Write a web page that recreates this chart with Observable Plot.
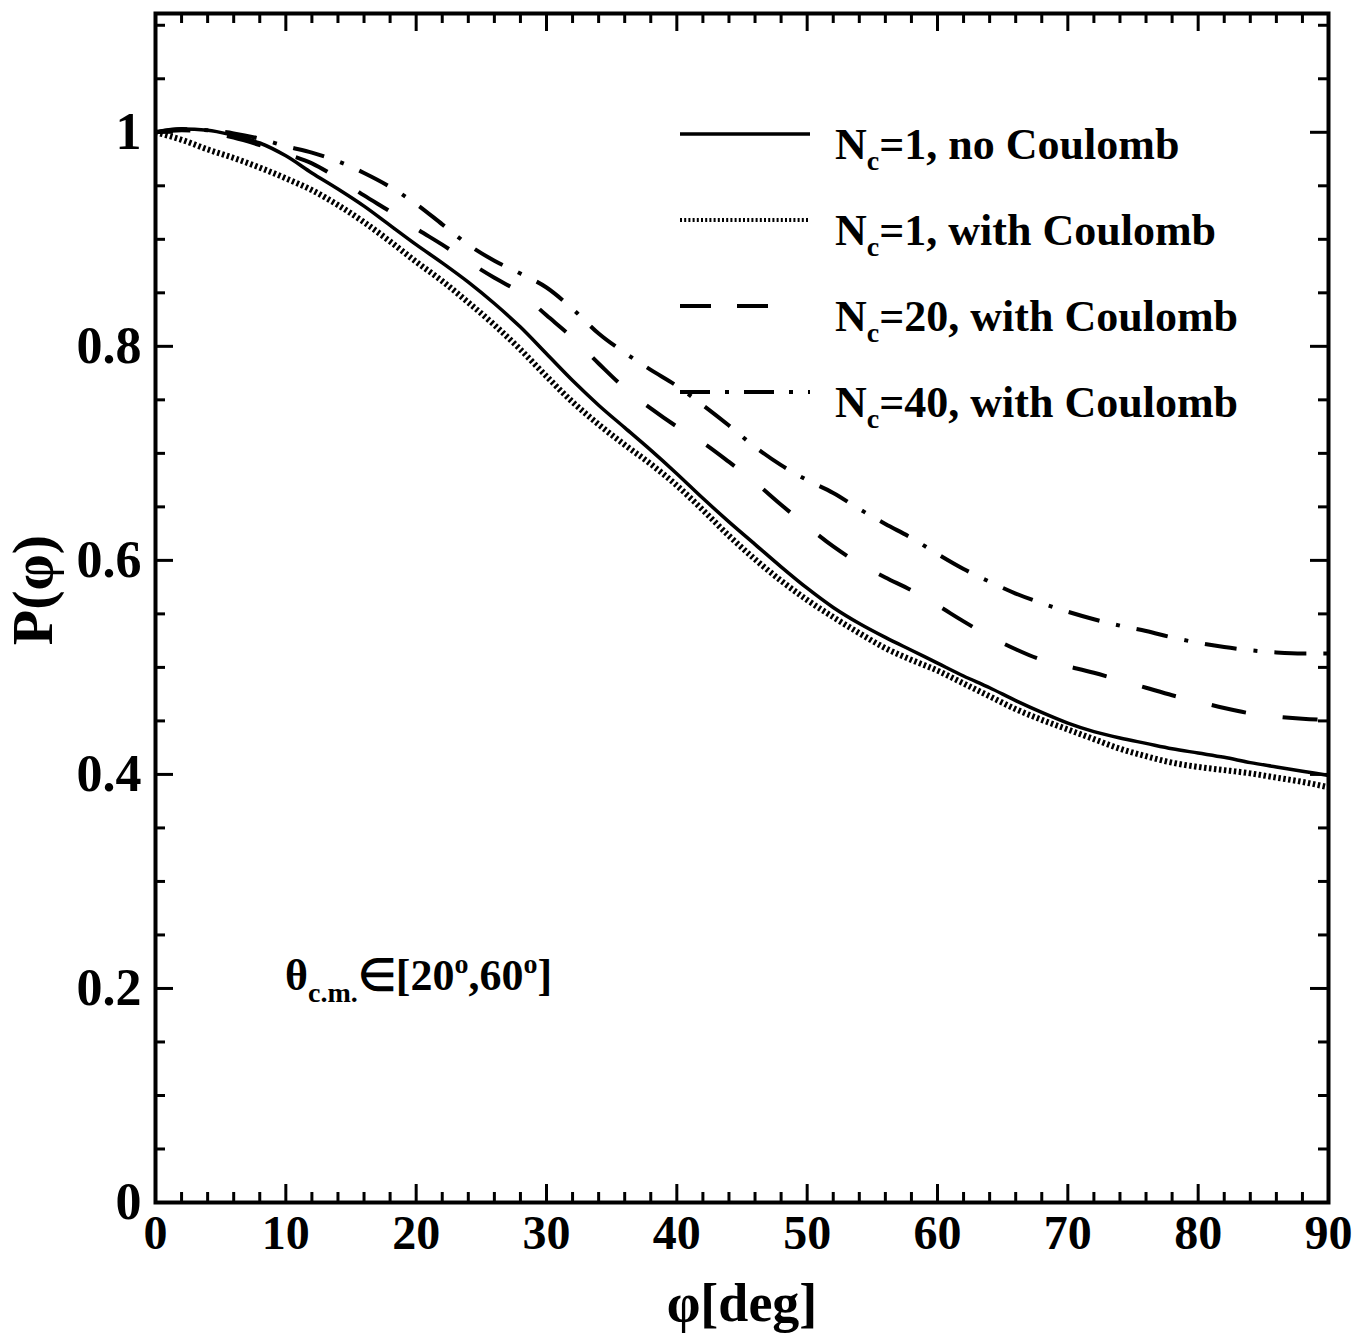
<!DOCTYPE html>
<html>
<head>
<meta charset="utf-8">
<script src="https://cdn.jsdelivr.net/npm/d3@7"></script>
<script src="https://cdn.jsdelivr.net/npm/@observablehq/plot@0.6"></script>
<style>
  html, body { margin: 0; padding: 0; background: #fff; }
  #chart svg { display: block; }
</style>
</head>
<body>
<div id="chart"></div>
<script>
// ---- data ----
const phiDeg = [0,2,4,6,8,10,12,14,16,18,20,22,24,26,28,30,32,34,36,38,40,42,44,46,48,50,52,54,56,58,60,62,64,66,68,70,72,74,76,78,80,82,84,86,88,90];

const nc1NoCoulomb = [1.000,1.003,1.002,0.997,0.990,0.978,0.962,0.947,0.931,0.913,0.895,0.878,0.860,0.840,0.818,0.793,0.768,0.745,0.724,0.703,0.681,0.658,0.636,0.615,0.594,0.574,0.556,0.541,0.528,0.516,0.504,0.492,0.481,0.469,0.458,0.448,0.440,0.434,0.429,0.424,0.420,0.416,0.411,0.407,0.403,0.399];
const nc1WithCoulomb = [1.000,0.993,0.984,0.976,0.967,0.957,0.946,0.932,0.916,0.898,0.879,0.861,0.841,0.820,0.797,0.772,0.748,0.727,0.708,0.690,0.670,0.647,0.623,0.601,0.581,0.563,0.547,0.532,0.518,0.507,0.497,0.485,0.473,0.461,0.451,0.442,0.433,0.424,0.417,0.411,0.407,0.404,0.401,0.397,0.393,0.388];
const nc20WithCoulomb = [1.000,1.002,1.000,0.995,0.988,0.980,0.971,0.957,0.941,0.926,0.910,0.895,0.879,0.864,0.850,0.829,0.808,0.784,0.761,0.742,0.725,0.710,0.692,0.673,0.652,0.632,0.613,0.597,0.584,0.572,0.558,0.543,0.529,0.517,0.507,0.501,0.495,0.488,0.481,0.474,0.468,0.462,0.457,0.454,0.452,0.451];
const nc40WithCoulomb = [1.000,1.003,1.002,0.999,0.994,0.987,0.981,0.973,0.962,0.949,0.933,0.914,0.895,0.880,0.868,0.855,0.835,0.812,0.794,0.778,0.763,0.745,0.726,0.706,0.689,0.675,0.663,0.648,0.634,0.621,0.606,0.592,0.580,0.569,0.560,0.552,0.545,0.539,0.534,0.528,0.523,0.519,0.516,0.514,0.513,0.513];

const seriesKeys = ["nc1", "nc1C", "nc20C", "nc40C"];
const legendMain = "N";
const legendSub = "c";
const legendRest = ["=1, no Coulomb", "=1, with Coulomb", "=20, with Coulomb", "=40, with Coulomb"];

const xMajorTicks = [0,10,20,30,40,50,60,70,80,90];
const xMinorTicks = [2,4,6,8,12,14,16,18,22,24,26,28,32,34,36,38,42,44,46,48,52,54,56,58,62,64,66,68,72,74,76,78,82,84,86,88];
const yMajorTicks = [0,0.2,0.4,0.6,0.8,1];
const yTickLabels = ["0","0.2","0.4","0.6","0.8","1"];
const yMinorTicks = [0.05,0.1,0.15,0.25,0.3,0.35,0.45,0.5,0.55,0.65,0.7,0.75,0.85,0.9,0.95,1.05,1.1];

const xLabel = "φ[deg]";
const yLabel = "P(φ)";

// ---- styles ----
const styles = {
  nc1:   {strokeWidth: 3.5, dash: null,          legendWidth: 3.5, legendDash: null},
  nc1C:  {strokeWidth: 6,   dash: "2.5,2.5",     legendWidth: 4,   legendDash: "2,2.2"},
  nc20C: {strokeWidth: 4,   dash: "35,37",       legendWidth: 4,   legendDash: "31,26,31,200"},
  nc40C: {strokeWidth: 4,   dash: "32,17,4,17",  legendWidth: 4,   legendDash: "30,15,4,15"}
};

const seriesValues = [nc1NoCoulomb, nc1WithCoulomb, nc20WithCoulomb, nc40WithCoulomb];
const rows = [];
seriesKeys.forEach((k, si) => {
  phiDeg.forEach((p, i) => rows.push({series: k, phi: p, P: seriesValues[si][i]}));
});

const W = 1352, H = 1340;
const mLeft = 155, mRight = 24, mTop = 13, mBottom = 138;
const plotW = W - mLeft - mRight, plotH = H - mTop - mBottom;
const FONT = "Liberation Serif, Times New Roman, serif";

function overlay(index, scales, values, dims) {
  const g = d3.create("svg:g")
    .attr("font-family", FONT).attr("font-weight", "bold")
    .attr("fill", "black").attr("text-anchor", "start");
  const x0 = dims.marginLeft, y0 = dims.marginTop;
  // legend
  seriesKeys.forEach((k, i) => {
    const ly = y0 + 121 + i * 86;
    const line = g.append("line")
      .attr("x1", x0 + 525).attr("x2", x0 + 655)
      .attr("y1", ly).attr("y2", ly)
      .attr("stroke", "black")
      .attr("stroke-width", styles[k].legendWidth);
    if (styles[k].legendDash) line.attr("stroke-dasharray", styles[k].legendDash);
    const t = g.append("text")
      .attr("x", x0 + 680).attr("y", y0 + 146 + i * 86)
      .attr("font-size", 44);
    t.append("tspan").text(legendMain);
    t.append("tspan").attr("font-size", 28).attr("dy", 11).text(legendSub);
    t.append("tspan").attr("dy", -11).text(legendRest[i]);
  });
  // annotation
  const a = g.append("text").attr("x", x0 + 130).attr("y", y0 + 977).attr("font-size", 44);
  a.append("tspan").text("θ");
  a.append("tspan").attr("font-size", 28).attr("dy", 12).text("c.m.");
  a.append("tspan").attr("dy", -12).text("∈[20");
  a.append("tspan").attr("font-size", 28).attr("dy", -17).text("o");
  a.append("tspan").attr("dy", 17).text(",60");
  a.append("tspan").attr("font-size", 28).attr("dy", -17).text("o");
  a.append("tspan").attr("dy", 17).text("]");
  return g.node();
}

const chart = Plot.plot({
  width: W,
  height: H,
  marginLeft: mLeft,
  marginRight: mRight,
  marginTop: mTop,
  marginBottom: mBottom,
  style: {fontFamily: FONT, fontWeight: "bold", background: "white", color: "black"},
  x: {domain: [0, 90], axis: null},
  y: {domain: [0, 1.111], axis: null},
  marks: [
    // curves
    ...seriesKeys.map(k => Plot.line(rows.filter(r => r.series === k), {
      x: "phi", y: "P", curve: "monotone-x",
      stroke: "black", strokeWidth: styles[k].strokeWidth,
      strokeDasharray: styles[k].dash, strokeLinecap: "butt"
    })),
    // inward ticks (bottom/top)
    Plot.tickX(xMajorTicks, {x: d => d, insetTop: plotH - 18, strokeWidth: 3}),
    Plot.tickX(xMajorTicks, {x: d => d, insetBottom: plotH - 18, strokeWidth: 3}),
    Plot.tickX(xMinorTicks, {x: d => d, insetTop: plotH - 10, strokeWidth: 3}),
    Plot.tickX(xMinorTicks, {x: d => d, insetBottom: plotH - 10, strokeWidth: 3}),
    // inward ticks (left/right)
    Plot.tickY(yMajorTicks, {y: d => d, insetRight: plotW - 18, strokeWidth: 3}),
    Plot.tickY(yMajorTicks, {y: d => d, insetLeft: plotW - 18, strokeWidth: 3}),
    Plot.tickY(yMinorTicks, {y: d => d, insetRight: plotW - 10, strokeWidth: 3}),
    Plot.tickY(yMinorTicks, {y: d => d, insetLeft: plotW - 10, strokeWidth: 3}),
    Plot.frame({stroke: "black", strokeWidth: 4}),
    // tick labels
    Plot.axisX({ticks: xMajorTicks, tickSize: 0, tickPadding: 12, fontSize: 48, label: null,
      tickFormat: d => String(d)}),
    Plot.axisY({ticks: yMajorTicks, tickSize: 0, tickPadding: 14, fontSize: 52, label: null,
      tickFormat: d => yTickLabels[yMajorTicks.indexOf(d)]}),
    // axis titles
    Plot.text([xLabel], {frameAnchor: "bottom", text: d => d, dy: 118, fontSize: 54, fill: "black"}),
    Plot.text([yLabel], {frameAnchor: "left", textAnchor: "middle", text: d => d, dx: -122, dy: -18, rotate: -90, fontSize: 58, fill: "black"}),
    overlay
  ]
});

document.getElementById("chart").appendChild(chart);
</script>
</body>
</html>
